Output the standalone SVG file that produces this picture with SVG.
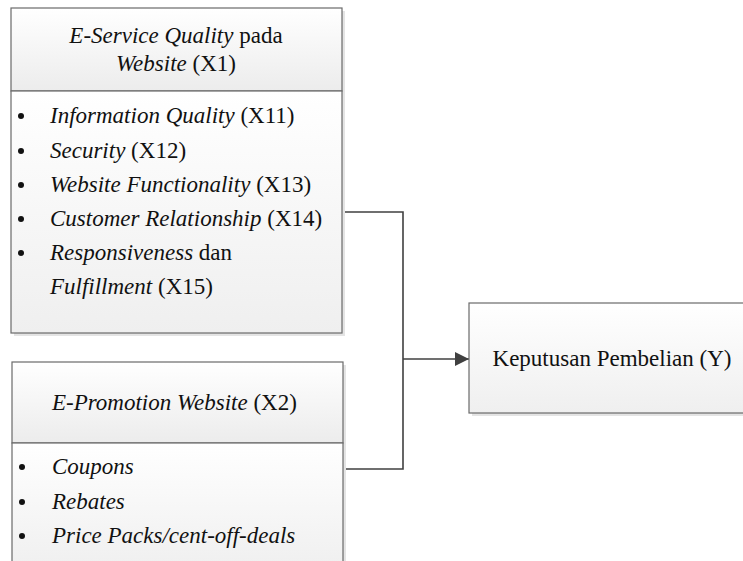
<svg xmlns="http://www.w3.org/2000/svg" width="743" height="561" viewBox="0 0 743 561">
  <style>
    text { font-family: "Liberation Serif", "Times New Roman", serif; font-size: 23px; fill: #111; }
    .it { font-style: italic; }
    .box { stroke: #6a6a6a; stroke-width: 1.2; }
    .shadow { fill: #e4e4e4; }
    .wire { fill: none; stroke: #404040; stroke-width: 1.6; }
  </style>
  <defs>
    <linearGradient id="gHead" x1="0" y1="0" x2="0" y2="1">
      <stop offset="0" stop-color="#ffffff"/>
      <stop offset="1" stop-color="#ececec"/>
    </linearGradient>
    <linearGradient id="gBody" x1="0" y1="0" x2="0" y2="1">
      <stop offset="0" stop-color="#ffffff"/>
      <stop offset="1" stop-color="#efefef"/>
    </linearGradient>
    <marker id="arrow" markerWidth="14" markerHeight="14" refX="14" refY="7" orient="auto" markerUnits="userSpaceOnUse">
      <path d="M0,0 L14,7 L0,14 Z" fill="#404040"/>
    </marker>
  </defs>

  <!-- Connectors -->
  <g id="connectors">
    <polyline class="wire" points="342,212 403,212 403,469 343,469"/>
    <line class="wire" x1="403" y1="359" x2="469" y2="359" marker-end="url(#arrow)"/>
  </g>

  <!-- X1 node -->
  <g id="node-x1">
    <rect class="shadow" x="14" y="11" width="331" height="325"/>
    <rect x="11" y="8" width="331" height="83" fill="url(#gHead)" class="box"/>
    <rect x="11" y="91" width="331" height="242" fill="url(#gBody)" class="box"/>
    <text x="176" y="43" text-anchor="middle"><tspan class="it">E-Service Quality</tspan> pada</text>
    <text x="176" y="71" text-anchor="middle"><tspan class="it">Website</tspan> (X1)</text>
    <g>
      <circle cx="21" cy="116" r="3" fill="#111"/>
      <text x="50" y="123"><tspan class="it">Information Quality</tspan> (X11)</text>
      <circle cx="21" cy="151" r="3" fill="#111"/>
      <text x="50" y="158"><tspan class="it">Security</tspan> (X12)</text>
      <circle cx="21" cy="185" r="3" fill="#111"/>
      <text x="50" y="192"><tspan class="it">Website Functionality</tspan> (X13)</text>
      <circle cx="21" cy="219" r="3" fill="#111"/>
      <text x="50" y="226"><tspan class="it">Customer Relationship</tspan> (X14)</text>
      <circle cx="21" cy="253" r="3" fill="#111"/>
      <text x="50" y="260"><tspan class="it">Responsiveness</tspan> dan</text>
      <text x="50" y="294"><tspan class="it">Fulfillment</tspan> (X15)</text>
    </g>
  </g>

  <!-- X2 node -->
  <g id="node-x2">
    <rect class="shadow" x="15" y="365" width="331" height="200"/>
    <rect x="12" y="362" width="331" height="81" fill="url(#gHead)" class="box"/>
    <rect x="12" y="443" width="331" height="130" fill="url(#gBody)" class="box"/>
    <text x="52" y="410"><tspan class="it">E-Promotion Website</tspan> (X2)</text>
    <circle cx="22" cy="467" r="3" fill="#111"/>
    <text x="52" y="474" class="it">Coupons</text>
    <circle cx="22" cy="502" r="3" fill="#111"/>
    <text x="52" y="509" class="it">Rebates</text>
    <circle cx="22" cy="536" r="3" fill="#111"/>
    <text x="52" y="543" class="it">Price Packs/cent-off-deals</text>
  </g>

  <!-- Y node -->
  <g id="node-y">
    <rect class="shadow" x="472" y="306" width="280" height="110"/>
    <rect x="469" y="303" width="280" height="110" fill="url(#gBody)" class="box"/>
    <text x="612" y="366" text-anchor="middle">Keputusan Pembelian (Y)</text>
  </g>
</svg>
